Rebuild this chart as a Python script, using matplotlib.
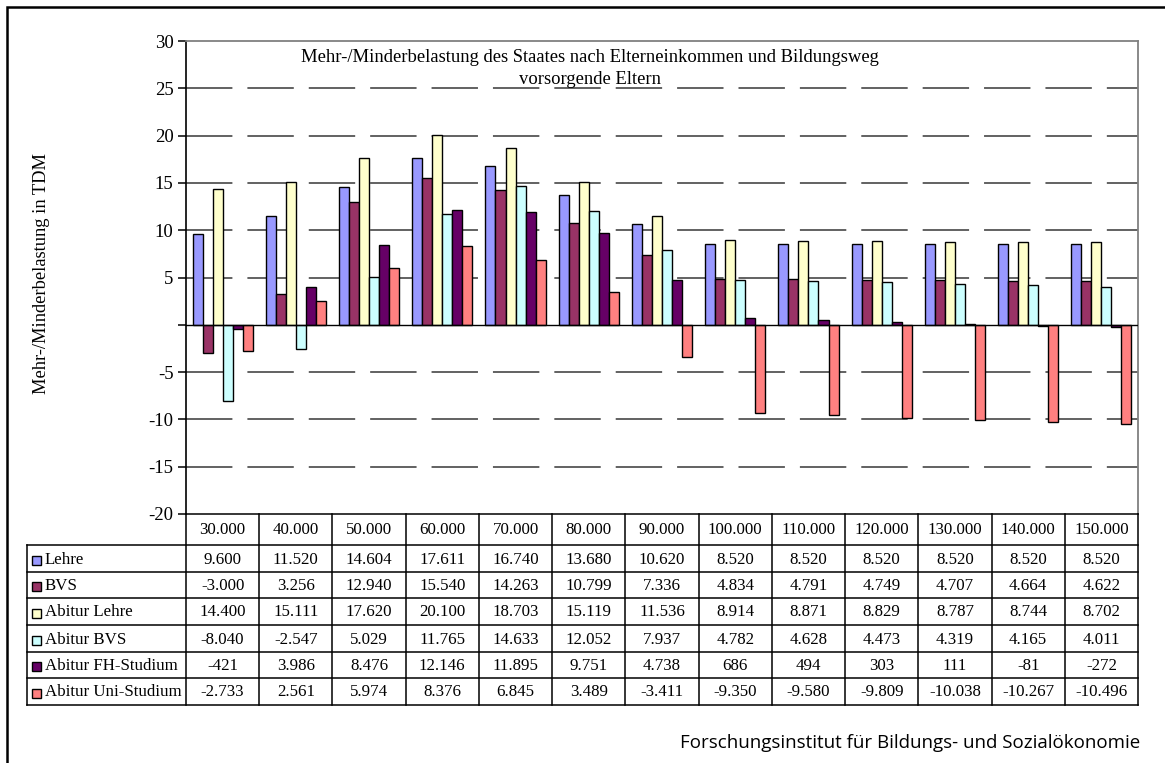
import numpy as np
import matplotlib.pyplot as plt
from matplotlib.patches import Rectangle
from matplotlib.lines import Line2D

# Elterneinkommen (DM) und Mehr-/Minderbelastung je Bildungsweg (DM)
einkommen = [30000, 40000, 50000, 60000, 70000, 80000, 90000, 100000,
             110000, 120000, 130000, 140000, 150000]
lehre = [9600, 11520, 14604, 17611, 16740, 13680, 10620, 8520, 8520, 8520, 8520, 8520, 8520]
bvs = [-3000, 3256, 12940, 15540, 14263, 10799, 7336, 4834, 4791, 4749, 4707, 4664, 4622]
abitur_lehre = [14400, 15111, 17620, 20100, 18703, 15119, 11536, 8914, 8871, 8829, 8787, 8744, 8702]
abitur_bvs = [-8040, -2547, 5029, 11765, 14633, 12052, 7937, 4782, 4628, 4473, 4319, 4165, 4011]
abitur_fh = [-421, 3986, 8476, 12146, 11895, 9751, 4738, 686, 494, 303, 111, -81, -272]
abitur_uni = [-2733, 2561, 5974, 8376, 6845, 3489, -3411, -9350, -9580, -9809, -10038, -10267, -10496]

reihen = ['Lehre', 'BVS', 'Abitur Lehre', 'Abitur BVS', 'Abitur FH-Studium', 'Abitur Uni-Studium']
werte = [lehre, bvs, abitur_lehre, abitur_bvs, abitur_fh, abitur_uni]
farben = ['#9999FF', '#993366', '#FFFFCC', '#CCFFFF', '#660066', '#FF8080']


def de_format(v):
    # deutsche Tausendertrennung: 14604 -> 14.604
    return f'{v:,}'.replace(',', '.')


W, H = 1165, 763
fig = plt.figure(figsize=(W / 100, H / 100), dpi=100)
serif = 'Liberation Serif'


def fx(px):
    return px / W


def fy(py):
    return 1 - py / H


# Diagrammbereich
x0, x1, ytop, ybot = 186, 1138, 41, 514
ax = fig.add_axes([fx(x0), fy(ybot), fx(x1) - fx(x0), fy(ytop) - fy(ybot)])

n = len(einkommen)
x = np.arange(n)
bw = 0.137
for i, (name, vals, col) in enumerate(zip(reihen, werte, farben)):
    ax.bar(x + (i - 2.5) * bw, np.array(vals) / 1000, width=bw, color=col,
           edgecolor='black', linewidth=1.0, zorder=3)

ax.set_xlim(-0.5, n - 0.5)
ax.set_ylim(-20, 30)

# gestrichelte Gitterlinien
for yv in [25, 20, 15, 10, 5, -5, -10, -15]:
    ax.axhline(yv, color='#555555', linewidth=1.3,
               linestyle=(0, (25.7, 8.3)), zorder=1)
ax.axhline(0, color='black', linewidth=1.0, zorder=4)

for s in ['top', 'right']:
    ax.spines[s].set_color('#808080')
    ax.spines[s].set_linewidth(1.3)
ax.spines['left'].set_linewidth(1.2)
ax.spines['bottom'].set_visible(False)

ax.set_xticks([])
ax.set_yticks(np.arange(-20, 31, 5))
ax.set_yticklabels(['' if t == 0 else str(t) for t in range(-20, 31, 5)],
                   fontfamily=serif, fontsize=13.5)
ax.tick_params(axis='y', direction='out', length=6, width=1.1, pad=3)

# Titel im Diagramm
fig.text(fx(590), fy(57), 'Mehr-/Minderbelastung des Staates nach Elterneinkommen und Bildungsweg',
         ha='center', va='center', fontfamily=serif, fontsize=13.4, zorder=5)
fig.text(fx(590), fy(80), 'vorsorgende Eltern',
         ha='center', va='center', fontfamily=serif, fontsize=13.4, zorder=5)

fig.text(fx(42), fy(274), 'Mehr-/Minderbelastung in TDM', rotation=90,
         ha='center', va='center', fontfamily=serif, fontsize=13.3)

# Datentabelle unter dem Diagramm
col_w = (x1 - x0) / n
row_tops = [514, 545, 572, 598, 625, 652, 678, 705]
lab_left = 27
lk = dict(color='black', linewidth=1.1, transform=fig.transFigure)

# horizontale Linien
fig.add_artist(Line2D([fx(x0), fx(x1)], [fy(row_tops[0])] * 2, **lk))
for yy in row_tops[1:]:
    fig.add_artist(Line2D([fx(lab_left), fx(x1)], [fy(yy)] * 2, **lk))
# vertikale Linien
for j in range(n + 1):
    xx = x0 + j * col_w
    fig.add_artist(Line2D([fx(xx)] * 2, [fy(row_tops[0]), fy(row_tops[-1])], **lk))
fig.add_artist(Line2D([fx(lab_left)] * 2, [fy(row_tops[1]), fy(row_tops[-1])], **lk))

tk = dict(fontfamily=serif, fontsize=12.2, va='center')
for j, e in enumerate(einkommen):
    cx = x0 + (j + 0.5) * col_w
    fig.text(fx(cx), fy((row_tops[0] + row_tops[1]) / 2 + 1), de_format(e), ha='center', **tk)

for r, (name, vals, col) in enumerate(zip(reihen, werte, farben)):
    cy = (row_tops[r + 1] + row_tops[r + 2]) / 2 + 1
    fig.add_artist(Rectangle((fx(32), fy(cy + 5)), fx(9), 9 / H, facecolor=col,
                             edgecolor='black', linewidth=1.0, transform=fig.transFigure))
    fig.text(fx(45), fy(cy), name, ha='left', **tk)
    for j, v in enumerate(vals):
        cx = x0 + (j + 0.5) * col_w
        fig.text(fx(cx), fy(cy), de_format(v), ha='center', **tk)

# äußerer Rahmen
fig.add_artist(Rectangle((fx(7), -0.05), 1.2, fy(7) + 0.05, fill=False,
                         edgecolor='black', linewidth=1.8, transform=fig.transFigure))

fig.text(fx(1140), fy(743), 'Forschungsinstitut für Bildungs- und Sozialökonomie',
         ha='right', va='center', fontfamily='Open Sans', fontsize=13.5)

fig.savefig('out.png', dpi=100)
